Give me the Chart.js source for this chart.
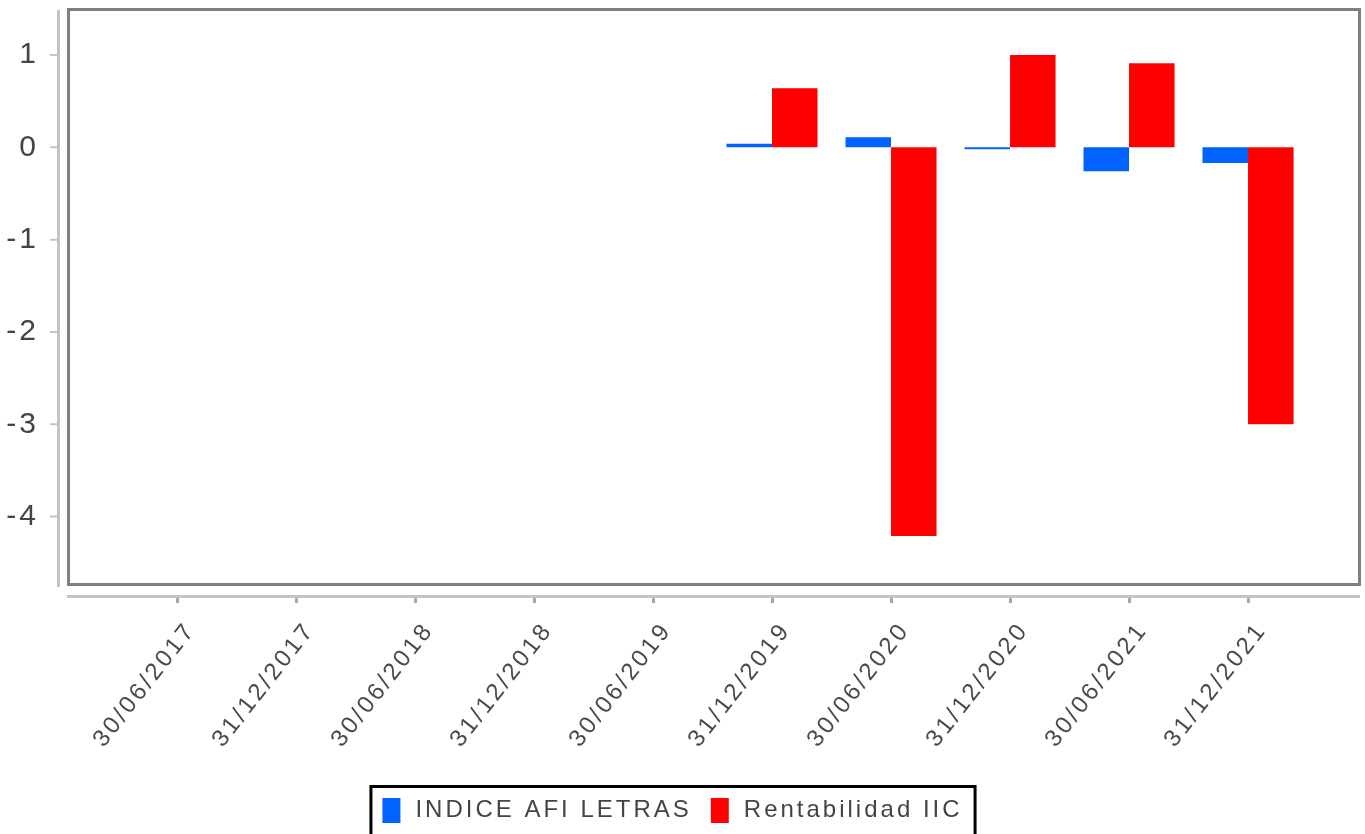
<!DOCTYPE html>
<html>
<head>
<meta charset="utf-8">
<script src="https://cdn.jsdelivr.net/npm/chart.js@4.4.1/dist/chart.umd.min.js"></script>
<style>
  html, body { margin: 0; padding: 0; background: #fff; }
  canvas { display: block; }
</style>
</head>
<body>
<canvas id="grafico" width="1365" height="834"></canvas>
<script>
const fechas = ['30/06/2017', '31/12/2017', '30/06/2018', '31/12/2018', '30/06/2019',
                '31/12/2019', '30/06/2020', '31/12/2020', '30/06/2021', '31/12/2021'];
const indiceAfi = [null, null, null, null, null, 0.04, 0.11, -0.02, -0.26, -0.17];
const rentabilidad = [null, null, null, null, null, 0.64, -4.21, 1.0, 0.91, -3.0];
const yTicks = [-4, -3, -2, -1, 0, 1];

const FUENTE = "'Liberation Sans', Arial, sans-serif";
const ESPACIADO = '3px';

function sinPadding(s) {
    s.paddingLeft = 0;
    s.paddingRight = 0;
    s.paddingTop = 0;
    s.paddingBottom = 0;
}

// marco del grafico, ejes separados y caja de la leyenda
const marcoPlugin = {
    id: 'marco',
    beforeUpdate(chart) { chart.ctx.letterSpacing = ESPACIADO; },
    beforeDraw(chart) { chart.ctx.letterSpacing = ESPACIADO; },
    afterLayout(chart) {
        const lg = chart.legend;
        lg.left -= 8;
        lg.right -= 8;
        lg.top += 2;
        lg.bottom += 2;
    },
    beforeDatasetsDraw(chart) {
        const {ctx, chartArea: a, scales: {x, y}} = chart;
        ctx.save();
        ctx.lineWidth = 3;
        ctx.strokeStyle = '#808080';
        ctx.strokeRect(a.left - 1.5, a.top - 1.5, a.right - a.left + 3, a.bottom - a.top + 3);

        // eje y
        ctx.strokeStyle = '#c4c4c4';
        ctx.beginPath();
        ctx.moveTo(a.left - 11.5, a.top - 1);
        ctx.lineTo(a.left - 11.5, a.bottom + 4);
        ctx.stroke();
        ctx.lineWidth = 2;
        ctx.beginPath();
        y.ticks.forEach(t => {
            const py = y.getPixelForValue(t.value);
            ctx.moveTo(a.left - 20, py);
            ctx.lineTo(a.left - 13, py);
        });
        ctx.stroke();

        // eje x
        ctx.lineWidth = 3;
        ctx.beginPath();
        ctx.moveTo(a.left - 3, a.bottom + 13.5);
        ctx.lineTo(a.right + 2, a.bottom + 13.5);
        ctx.stroke();
        ctx.strokeStyle = '#a8a8a8';
        ctx.beginPath();
        x.ticks.forEach(t => {
            const px = Math.round(x.getPixelForValue(t.value)) + 0.5;
            ctx.moveTo(px, a.bottom + 15);
            ctx.lineTo(px, a.bottom + 20);
        });
        ctx.stroke();
        ctx.restore();
    },
    afterDraw(chart) {
        const hb = chart.legend.legendHitBoxes;
        if (!hb || !hb.length) return;
        const last = hb[hb.length - 1];
        const ctx = chart.ctx;
        ctx.save();
        ctx.lineWidth = 3;
        ctx.strokeStyle = '#000';
        const l = hb[0].left - 8.5, r = last.left + last.width + 12.5, t = hb[0].top - 8.5;
        ctx.strokeRect(l, t, r - l, 80);
        ctx.restore();
    }
};

const datos = {
    datasets: [{
        label: 'INDICE AFI LETRAS',
        data: indiceAfi.map((v, i) => ({x: i, y: v})),
        backgroundColor: '#0062ff'
    }, {
        label: 'Rentabilidad IIC',
        data: rentabilidad.map((v, i) => ({x: i, y: v})),
        backgroundColor: '#ff0000'
    }]
};

const grafico = new Chart(document.getElementById('grafico'), {
    type: 'bar',
    data: datos,
    options: {
        responsive: false,
        animation: false,
        categoryPercentage: 0.765,
        barPercentage: 1,
        layout: { padding: { top: 11, right: 7, left: 0, bottom: 0 } },
        scales: {
            x: {
                type: 'linear',
                offset: false,
                min: -0.899,
                max: 9.924,
                grid: { display: false, offset: false },
                border: { display: false },
                afterBuildTicks: s => { s.ticks = fechas.map((_, i) => ({value: i})); },
                afterFit: s => { s.height = 194; sinPadding(s); },
                ticks: {
                    autoSkip: false,
                    minRotation: 52,
                    maxRotation: 52,
                    padding: 26,
                    labelOffset: 14,
                    color: '#4a4a4a',
                    font: { family: FUENTE, size: 24 },
                    callback: v => fechas[v] ?? ''
                }
            },
            y: {
                min: -4.72,
                max: 1.477,
                grid: { display: false },
                border: { display: false },
                afterBuildTicks: s => { s.ticks = yTicks.map(v => ({value: v})); },
                afterFit: s => { s.width = 70; sinPadding(s); },
                ticks: {
                    padding: 23,
                    color: '#444',
                    font: { family: FUENTE, size: 30 },
                    callback: v => String(v)
                }
            }
        },
        plugins: {
            legend: {
                position: 'bottom',
                labels: {
                    boxWidth: 24,
                    boxHeight: 31,
                    padding: 16,
                    color: '#444',
                    font: { family: FUENTE, size: 24 },
                    // borde blanco para dejar la caja de color en 18x25
                    generateLabels: chart => Chart.defaults.plugins.legend.labels.generateLabels(chart)
                        .map(item => Object.assign(item, { strokeStyle: '#fff', lineWidth: 6 }))
                }
            },
            tooltip: { enabled: false }
        }
    },
    plugins: [marcoPlugin]
});
</script>
</body>
</html>
